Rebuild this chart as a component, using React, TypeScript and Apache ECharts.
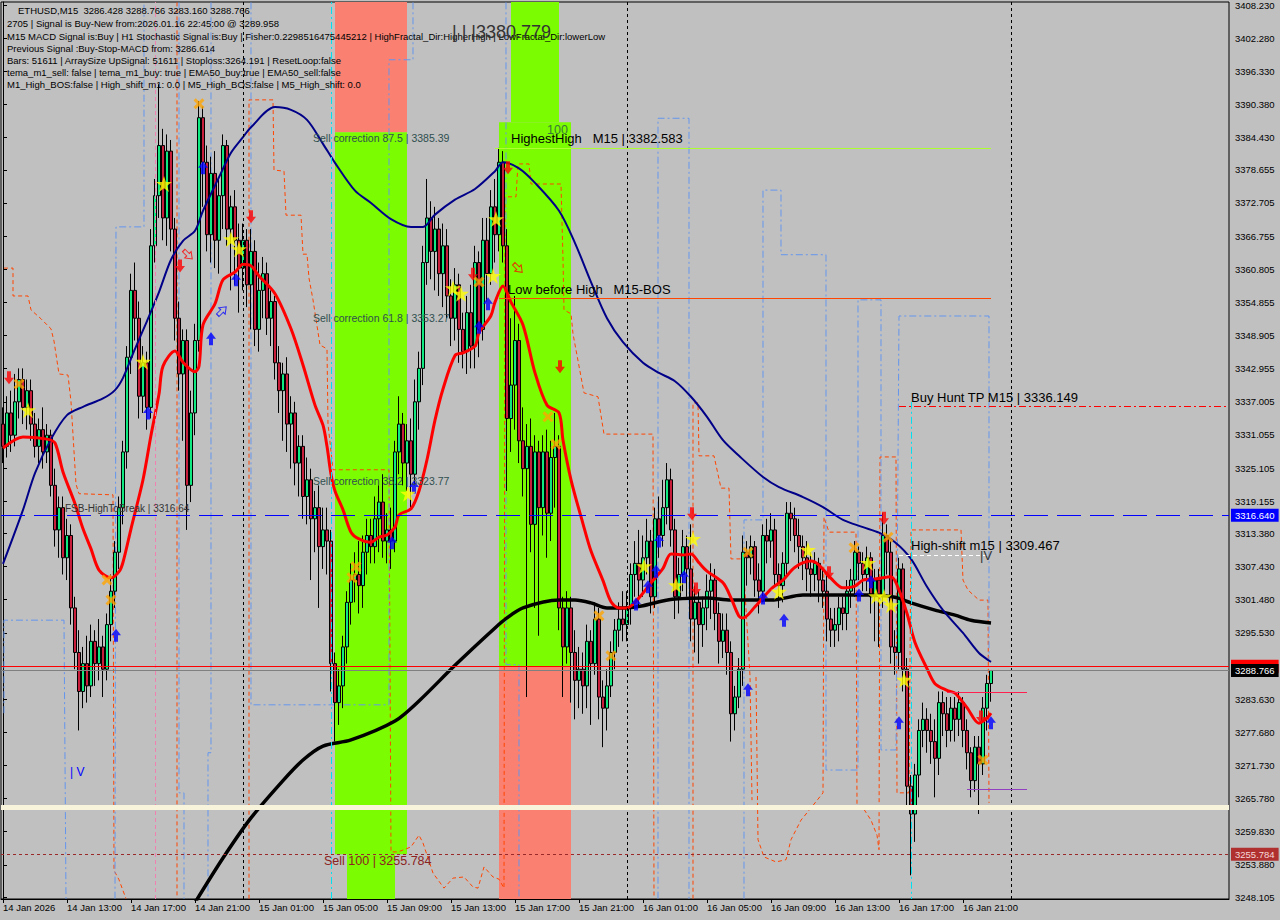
import React, { useEffect, useRef } from "react";
import * as echarts from "echarts";

const FONT = '"Liberation Sans", Arial, sans-serif';

const headerLine = "ETHUSD,M15  3286.428 3288.766 3283.160 3288.766";
const infoLines = [
  "2705 | Signal is Buy-New from:2026.01.16 22:45:00 @ 3289.958",
  "M15 MACD Signal is:Buy | H1 Stochastic Signal is:Buy | Fisher:0.2298516475445212 | HighFractal_Dir:HigherHigh | LowFractal_Dir:lowerLow",
  "Previous Signal :Buy-Stop-MACD from: 3286.614",
  "Bars: 51611 | ArraySize UpSignal: 51611 | Stoploss:3264.191 | ResetLoop:false",
  "tema_m1_sell: false | tema_m1_buy: true | EMA50_buy:true | EMA50_sell:false",
  "M1_High_BOS:false | High_shift_m1: 0.0 | M5_High_BOS:false | M5_High_shift: 0.0",
];

const timeLabels = [
  "14 Jan 2026", "14 Jan 13:00", "14 Jan 17:00", "14 Jan 21:00",
  "15 Jan 01:00", "15 Jan 05:00", "15 Jan 09:00", "15 Jan 13:00",
  "15 Jan 17:00", "15 Jan 21:00", "16 Jan 01:00", "16 Jan 05:00",
  "16 Jan 09:00", "16 Jan 13:00", "16 Jan 17:00", "16 Jan 21:00",
];

const priceTicks = [
  3408.23, 3402.28, 3396.33, 3390.38, 3384.43, 3378.655, 3372.705, 3366.755,
  3360.805, 3354.855, 3348.905, 3342.955, 3337.005, 3331.055, 3325.105,
  3319.155, 3313.38, 3307.43, 3301.48, 3295.53, 3283.63, 3277.68, 3271.73,
  3265.78, 3259.83, 3253.88, 3248.105,
];

const Y_MIN = 3247.746;
const Y_MAX = 3408.769;
const SLOTS = 307;

// [open, close, low, high]
const candles: number[][] = [
  [3333,3329,3326,3336],[3329,3335,3327,3338],[3335,3331,3328,3339],[3331,3337,3329,3342],[3337,3341,3334,3343],
  [3341,3336,3333,3343],[3336,3339,3332,3341],[3339,3333,3330,3341],[3333,3329,3327,3335],[3329,3332,3326,3334],
  // 10
  [3332,3328,3325,3336],[3328,3331,3326,3333],[3331,3322,3320,3332],[3322,3314,3311,3325],[3314,3318,3309,3320],
  [3318,3309,3306,3320],[3309,3313,3305,3316],[3313,3300,3297,3315],[3300,3292,3289,3302],[3292,3285,3278,3296],
  // 20
  [3285,3290,3282,3293],[3290,3286,3283,3295],[3286,3294,3284,3297],[3294,3290,3286,3296],[3290,3293,3287,3298],
  [3293,3289,3284,3295],[3289,3297,3287,3299],[3297,3303,3294,3306],[3303,3310,3300,3312],[3310,3318,3307,3320],
  // 30
  [3318,3328,3315,3330],[3328,3345,3325,3347],[3345,3357,3342,3360],[3357,3352,3348,3362],[3352,3338,3334,3355],
  [3338,3344,3335,3347],[3344,3336,3332,3346],[3336,3365,3334,3368],[3365,3374,3362,3377],[3374,3383,3370,3394],
  // 40
  [3383,3370,3366,3386],[3370,3382,3365,3385],[3382,3368,3364,3384],[3368,3352,3348,3370],[3352,3342,3339,3355],
  [3342,3348,3330,3350],[3348,3322,3314,3350],[3322,3335,3319,3339],[3335,3348,3331,3351],[3348,3388,3346,3391],
  // 50
  [3388,3380,3372,3390],[3380,3367,3364,3383],[3367,3378,3362,3381],[3378,3366,3361,3382],[3366,3374,3360,3377],
  [3374,3383,3368,3385],[3383,3368,3365,3384],[3368,3372,3357,3374],[3372,3366,3358,3375],[3366,3361,3353,3369],
  // 60
  [3361,3366,3357,3369],[3366,3358,3354,3368],[3358,3364,3350,3368],[3364,3350,3347,3366],[3350,3357,3346,3362],
  [3357,3360,3352,3363],[3360,3352,3349,3362],[3352,3355,3347,3357],[3355,3344,3341,3356],[3344,3339,3335,3347],
  // 70
  [3339,3342,3330,3344],[3342,3333,3328,3345],[3333,3335,3325,3338],[3335,3326,3322,3337],[3326,3329,3320,3331],
  [3329,3320,3316,3331],[3320,3323,3315,3327],[3323,3316,3305,3325],[3316,3318,3310,3321],[3318,3311,3300,3322],
  // 80
  [3311,3314,3307,3318],[3314,3312,3306,3318],[3312,3290,3285,3314],[3290,3283,3276,3292],[3283,3286,3279,3289],
  [3286,3293,3282,3295],[3293,3301,3290,3303],[3301,3305,3297,3308],[3305,3306,3301,3310],[3306,3304,3299,3312],
  // 90
  [3304,3310,3300,3313],[3310,3313,3306,3316],[3313,3311,3308,3316],[3311,3316,3308,3320],[3316,3319,3310,3322],
  [3319,3312,3309,3324],[3312,3314,3308,3317],[3314,3312,3307,3318],[3312,3328,3310,3330],[3328,3333,3324,3338],
  // 100
  [3333,3326,3322,3335],[3326,3330,3321,3333],[3330,3324,3318,3334],[3324,3337,3322,3341],[3337,3343,3332,3346],
  [3343,3362,3340,3365],[3362,3370,3358,3377],[3370,3364,3359,3373],[3364,3368,3357,3372],[3368,3360,3356,3370],
  // 110
  [3360,3365,3354,3369],[3365,3356,3352,3368],[3356,3352,3347,3359],[3352,3358,3348,3361],[3358,3350,3344,3360],
  [3350,3346,3343,3353],[3346,3353,3342,3356],[3353,3347,3343,3358],[3347,3362,3343,3365],[3362,3350,3345,3364],
  // 120
  [3350,3366,3348,3370],[3366,3360,3355,3370],[3360,3372,3358,3375],[3372,3367,3362,3377],[3367,3380,3364,3382.583],
  [3380,3365,3362,3382],[3365,3334,3321,3368],[3334,3340,3328,3352],[3340,3348,3332,3356],[3348,3330,3326,3351],
  // 130
  [3330,3325,3320,3336],[3325,3329,3284,3333],[3329,3315,3310,3334],[3315,3328,3300,3331],[3328,3318,3295,3330],
  [3318,3328,3313,3331],[3328,3317,3309,3332],[3317,3327,3312,3330],[3327,3329,3318,3335],[3329,3300,3296,3331],
  // 140
  [3300,3293,3284,3302],[3293,3300,3290,3303],[3300,3292,3283,3302],[3292,3287,3280,3296],[3287,3289,3282,3293],
  [3289,3286,3281,3292],[3286,3294,3282,3297],[3294,3290,3279,3296],[3290,3298,3288,3301],[3298,3284,3280,3300],
  // 150
  [3284,3282,3275,3287],[3282,3286,3278,3289],[3286,3292,3284,3294],[3292,3296,3289,3298],[3296,3298,3293,3301],
  [3298,3297,3294,3303],[3297,3300,3294,3303],[3300,3306,3297,3308],[3306,3308,3302,3312],[3308,3305,3300,3314],
  // 160
  [3305,3309,3302,3313],[3309,3312,3306,3316],[3312,3302,3299,3314],[3302,3316,3300,3318],[3316,3313,3309,3320],
  [3313,3318,3311,3323],[3318,3323,3315,3326],[3323,3314,3311,3325],[3314,3302,3298,3316],[3302,3306,3299,3309],
  // 170
  [3306,3311,3303,3314],[3311,3307,3302,3313],[3307,3298,3294,3315],[3298,3301,3292,3304],[3301,3297,3290,3303],
  [3297,3300,3293,3302],[3300,3303,3296,3306],[3303,3305,3298,3308],[3305,3299,3296,3307],[3299,3294,3290,3301],
  // 180
  [3294,3296,3291,3299],[3296,3292,3288,3299],[3292,3281,3276,3294],[3281,3284,3278,3286],[3284,3289,3282,3291],
  [3289,3310,3286,3313],[3310,3309,3304,3312],[3309,3311,3306,3313],[3311,3305,3302,3312],[3305,3303,3299,3308],
  // 190
  [3303,3313,3301,3315],[3313,3312,3308,3316],[3312,3314,3309,3317],[3314,3306,3304,3316],[3306,3304,3300,3308],
  [3304,3308,3301,3310],[3308,3317,3306,3319],[3317,3316,3312,3319],[3316,3313,3310,3318],[3313,3311,3307,3316],
  // 200
  [3311,3309,3305,3313],[3309,3307,3303,3312],[3307,3306,3302,3310],[3306,3308,3303,3310],[3308,3305,3301,3309],
  [3305,3303,3300,3307],[3303,3298,3294,3306],[3298,3296,3293,3300],[3296,3297,3293,3300],[3297,3300,3294,3302],
  // 210
  [3300,3299,3296,3302],[3299,3303,3296,3305],[3303,3305,3300,3307],[3305,3310,3302,3312],[3310,3308,3305,3311],
  [3308,3306,3303,3310],[3306,3309,3303,3311],[3309,3302,3299,3310],[3302,3305,3294,3307],[3305,3302,3293,3307],
  // 220
  [3302,3313,3300,3317],[3313,3310,3306,3315],[3310,3293,3290,3312],[3293,3292,3288,3296],[3292,3307,3289,3309],
  [3307,3289,3285,3308],[3289,3268,3264,3291],[3268,3263,3252,3270],[3263,3270,3258,3272],[3270,3278,3266,3280],
  // 230
  [3278,3280,3275,3283],[3280,3278,3274,3282],[3278,3276,3272,3281],[3276,3273,3266,3280],[3273,3283,3270,3285],
  [3283,3281,3277,3285],[3281,3278,3275,3284],[3278,3282,3276,3284],[3282,3280,3276,3284],[3280,3283,3277,3285],
  // 240
  [3283,3278,3275,3284],[3278,3274,3271,3280],[3274,3269,3266,3275],[3269,3275,3267,3277],[3275,3272,3263,3277],
  [3272,3282,3270,3284],[3282,3286.428,3278,3288],[3286.428,3288.766,3283.16,3288.766],
];

// moving averages: [bar index, price]
const redMA = [
  [0,3328.7],[5,3330.7],[11,3330.3],[13,3329.6],[15,3324.4],[18,3318.7],[20,3314.2],[22,3310.6],[24,3306.8],[27,3305.4],
  [29,3306.5],[30,3308.2],[32,3314.2],[35,3323.0],[37,3331.0],[39,3338.4],[40,3343.4],[43,3346.1],[45,3344.1],[48,3342.4],
  [49,3343.4],[50,3350.8],[53,3354.6],[55,3358.9],[58,3360.3],[60,3361.7],[62,3361.4],[64,3359.6],[68,3356.4],[72,3350.1],
  [75,3343.6],[78,3336.4],[80,3332.8],[81,3329.0],[82,3324.0],[83,3321.0],[85,3317.6],[87,3313.6],[89,3312.4],[92,3311.8],
  [94,3312.7],[96,3313.1],[98,3314.5],[99,3316.7],[102,3317.8],[104,3321.0],[106,3326.6],[108,3333.7],[110,3339.3],[113,3345.3],
  [115,3345.8],[118,3347.0],[119,3349.4],[122,3352.5],[123,3354.9],[125,3357.8],[127,3354.9],[130,3350.8],[133,3342.2],[136,3336.4],
  [139,3335.0],[140,3330.1],[142,3323.0],[145,3315.1],[147,3310.2],[150,3304.9],[152,3301.1],[154,3300.0],[156,3300.0],[159,3301.8],
  [162,3304.5],[165,3307.1],[167,3309.7],[170,3309.5],[172,3309.7],[174,3308.1],[176,3306.6],[180,3304.5],[182,3301.8],[184,3298.5],
  [185,3298.2],[188,3300.2],[192,3303.4],[195,3305.0],[198,3307.3],[202,3308.4],[204,3307.7],[207,3305.3],[210,3303.6],[213,3303.9],
  [215,3305.0],[218,3305.2],[222,3305.6],[224,3303.2],[226,3299.0],[228,3293.8],[231,3289.1],[233,3286.4],[236,3285.2],[238,3284.7],
  [241,3282.1],[244,3279.3],[246,3280.2],[247,3281.1],
];
const blueMA = [
  [0,3307.9],[5,3317.6],[8,3324.2],[12,3330.3],[16,3334.6],[20,3336.1],[25,3337.6],[28,3339.1],[30,3341.3],[33,3346.5],
  [36,3351.5],[39,3356.7],[42,3362.5],[45,3365.9],[48,3367.7],[50,3371.3],[54,3377.3],[57,3381.7],[60,3384.5],[62,3386.3],
  [68,3389.9],[72,3389.4],[76,3387.6],[80,3383.3],[83,3379.9],[88,3374.9],[92,3372.7],[97,3369.8],[102,3368.4],[105,3368.4],
  [108,3370.6],[113,3373.3],[118,3375.2],[123,3378.4],[125,3380.0],[129,3378.9],[133,3376.3],[139,3371.3],[143,3365.5],[147,3358.5],
  [151,3352.0],[155,3347.7],[160,3344.0],[164,3342.2],[168,3340.7],[172,3337.9],[176,3334.3],[180,3330.1],[184,3327.3],[190,3323.5],
  [194,3321.7],[200,3319.9],[205,3318.1],[210,3315.8],[215,3314.5],[219,3313.5],[223,3311.8],[227,3308.8],[231,3303.8],[235,3299.6],
  [240,3295.5],[244,3291.9],[247,3290.3],
];
const blackMA = [
  [47.5,3246.5],[55,3255.1],[62,3262.3],[70,3269.0],[75,3272.7],[80,3275.2],[87,3276.3],[98,3279.7],[104,3283.3],[113,3289.7],
  [123,3296.4],[126,3298.2],[130,3300.0],[139,3301.4],[143,3301.4],[147,3300.9],[151,3300.0],[155,3300.0],[160,3300.4],[164,3301.1],
  [168,3301.6],[176,3301.8],[182,3301.4],[192,3301.4],[200,3302.3],[208,3302.3],[217,3302.3],[223,3301.9],[227,3300.9],[233,3299.6],
  [238,3298.7],[242,3297.8],[247,3297.3],
];

// stepped indicator lines
const orangeA = [
  [0.25,3361.0],[2.5,3361.0],[2.5,3356.0],[6.25,3356.0],[7,3353.5],[9.5,3351.9],[12,3350.1],[12.75,3347.9],[14,3342.0],[16.25,3341.8],
  [17,3337.0],[18.25,3322.2],[19,3320.5],[27.5,3320.3],[27.75,3252.9],[29,3251.2],[30.75,3247.8],
];
const orangeB = [[43.5,3408.7],[43.5,3247.8]];
const orangeC = [
  [61.5,3247.8],[61.5,3391.2],[67.5,3391.2],[67.75,3378.6],[70.25,3378.4],[70.75,3370.5],[74.5,3370.5],[75,3363.5],[76,3363.5],[76.5,3359.2],
  [77.5,3355.3],[79.25,3347.2],[81,3346.5],[81.25,3333.0],[82.5,3324.8],[96.5,3324.8],[97,3256.2],[98.75,3256.2],[100.25,3256.6],[102,3257.1],
  [104,3259.2],[105,3257.8],[107.5,3252.4],[110.25,3249.7],[112.5,3251.5],[115.25,3251.7],[117.5,3249.9],[118.75,3249.7],[120.25,3253.5],[122.5,3251.7],
  [124,3251.3],[125.25,3249.7],[125.5,3373.8],[128.25,3373.8],[128.75,3379.7],[131.5,3379.7],[132,3376.1],[139.5,3376.1],[140,3362.6],[140.25,3353.5],
  [142,3352.8],[142.5,3349.2],[145.25,3338.6],[148.75,3337.9],[150.25,3331.2],[162.5,3331.2],[162.75,3247.8],
];
const orangeD = [
  [172.5,3247.8],[172.5,3336.8],[173.75,3336.8],[174,3327.3],[177.75,3327.3],[179.5,3321.5],[181.5,3321.5],[182,3308.8],[185,3308.8],[186.75,3287.8],
  [187.25,3265.5],
];
const orangeE = [
  [188.25,3287.6],[188.75,3258.4],[190.25,3255.3],[193.25,3254.4],[195.75,3254.8],[197,3258.4],[199.5,3261.9],[202,3264.1],[205,3266.8],[205.25,3316.3],
  [206.5,3313.6],[213.25,3313.6],[213.5,3264.6],[215,3264.1],[217,3261.9],[218.5,3259.2],[219,3256.6],[219.25,3327.1],[223.25,3327.1],[223.5,3266.8],
  [226.5,3266.8],[227,3314.0],[239.5,3314.0],[240,3305.0],[241.25,3303.2],[244,3301.4],[246.25,3301.4],[246.5,3265.0],
];
const blueA = [[0.25,3281.1],[0.25,3297.8],[15.25,3297.8],[15.75,3247.8]];
const blueB = [[28,3247.8],[28.25,3368.4],[35.25,3368.4],[35.25,3408.7]];
const blueC = [[44,3408.7],[44,3266.8],[45.25,3266.8],[45.25,3247.8]];
const blueD = [[52,3408.7],[52,3274.0],[51.25,3274.0],[51.25,3247.8]];
const blueE = [[62,3408.7],[62,3282.6],[96.5,3282.6],[96.5,3398.4],[102.5,3398.4],[102.5,3408.7]];
const blueF = [[125.75,3408.7],[125.75,3289.8],[129,3289.8],[129,3247.8]];
const blueG = [[163.75,3247.8],[163.75,3387.9],[171.5,3387.9],[171.5,3247.8]];
const blueH = [
  [185.25,3247.8],[185.25,3315.8],[190,3315.8],[190,3375.0],[194.5,3375.0],[194.5,3363.4],[205.75,3363.4],[205.75,3270.9],[213.75,3270.9],[213.75,3355.3],
  [219.5,3355.3],[219.5,3274.5],[223.25,3274.5],[224,3352.4],[246.5,3352.4],[246.5,3290.7],
];

// signal markers [bar index, price]
const redDown = [[1.5,3341.3],[44.25,3361.4],[62,3370.2],[117.5,3359.9],[126.25,3379.0],[139.25,3343.3],[172.25,3316.9],[173.25,3303.4],[206.5,3306.3],[220.25,3316.1],[244.5,3280.4]];
const blueUp = [[28.25,3295.1],[36.25,3335.0],[50,3379.0],[52,3348.3],[58.25,3358.9],[97.25,3311.7],[102.75,3321.7],[119,3350.4],[121.25,3354.6],[158.25,3300.7],[161.25,3303.8],[163.25,3306.6],[164,3312.0],[170.25,3305.6],[186.25,3285.3],[190,3301.8],[195.25,3297.8],[214,3302.3],[217,3304.7],[224,3279.4],[247,3279.4]];
const stars = [[6.25,3335.5],[35,3344.2],[40.25,3376.1],[57,3366.2],[59,3364.4],[101.25,3320.5],[112.5,3357.4],[114.5,3356.4],[122.5,3359.6],[123.25,3369.8],[160.25,3307.5],[168.25,3304.1],[172.5,3312.4],[194,3302.9],[201.25,3310.4],[216.25,3308.1],[218.25,3302.1],[220.25,3302.0],[222,3300.5],[225.25,3287.1]];
const crosses = [[4,3340.2],[26,3305.0],[27,3301.4],[49,3390.5],[87.25,3305.4],[88.25,3307.4],[119,3358.5],[136.25,3334.3],[138.25,3329.4],[149,3298.6],[152,3291.4],[186.25,3310.0],[212.75,3310.8],[221.25,3312.7],[245,3272.7]];
const hollowRed = [[46.25,3363.4],[128.75,3361.0]];
const hollowBlue = [[54.75,3353.3]];

const ARROW_DOWN = "path://M3,0L7,0L7,6L10,6L5,12L0,6L3,6Z";
const ARROW_UP = "path://M5,0L10,6L7,6L7,12L3,12L3,6L0,6Z";
const STAR = "path://M50,0L61.2,34.5L97.6,34.5L68.2,55.9L79.4,90.5L50,69.1L20.6,90.5L31.8,55.9L2.4,34.5L38.8,34.5Z";
const CROSS = "path://M0,2L2,0L5,3L8,0L10,2L7,5L10,8L8,10L5,7L2,10L0,8L3,5Z";

function buildOption() {
  const start = Date.UTC(2026, 0, 14, 9, 0);
  const cats: string[] = [];
  for (let i = 0; i < SLOTS; i++) {
    const d = new Date(start + i * 15 * 60000);
    cats.push(d.toISOString().slice(0, 16));
  }
  const showIdx = (idx: number) => idx % 16 === 0 && idx / 16 < timeLabels.length;

  const stepLine = (data: number[][], color: string, type: any) => ({
    type: "line",
    xAxisIndex: 1,
    data,
    showSymbol: false,
    symbol: "none",
    silent: true,
    z: 1,
    lineStyle: { color, width: 1, type },
  });
  const dashDot = [7, 3, 2, 3];
  const dash = [4, 3];

  const priceLabel = (text: string, bg: string, fg: string) => ({
    show: true,
    position: "end",
    formatter: text,
    backgroundColor: bg,
    color: fg,
    fontSize: 9.5,
    fontFamily: FONT,
    padding: [2, 4, 1, 4],
    distance: 2,
  });

  const texts: any[] = [];
  const addText = (x: number, y: number, text: string, size: number, fill: string) =>
    texts.push({
      type: "text",
      x,
      y,
      z: 100,
      silent: true,
      style: { text, fill, font: `${size}px ${FONT}`, align: "left", verticalAlign: "middle" },
    });
  addText(18, 10, headerLine, 9.5, "#000");
  const lineYs = [23, 36, 48, 60, 72, 84];
  infoLines.forEach((t, k) => addText(7, lineYs[k], t, 9.5, "#000"));
  addText(452, 32, "| | |3380.779", 18, "#333");
  addText(313, 138, "Sell correction 87.5 | 3385.39", 10.5, "#2f4f4f");
  addText(313, 318, "Sell correction 61.8 | 3353.27", 10.5, "#2f4f4f");
  addText(313, 481, "Sell correction 38.2 | 3323.77", 10.5, "#2f4f4f");
  addText(324, 861, "Sell 100 | 3255.784", 12.5, "#8b2323");
  addText(547, 130, "100", 12.5, "#3a7a3a");
  addText(511, 138, "HighestHigh   M15 | 3382.583", 13, "#000");
  addText(508, 289, "Low before High   M15-BOS", 13, "#000");
  addText(911, 397, "Buy Hunt TP M15 | 3336.149", 13, "#000");
  addText(911, 545, "High-shift m15 | 3309.467", 13, "#000");
  addText(65, 508, "FSB-HighToBreak | 3316.64", 10, "#333");
  addText(70, 772, "| V", 12, "#0000ff");
  addText(980, 555, "|V", 13, "#333");

  return {
    animation: false,
    backgroundColor: "#c0c0c0",
    grid: {
      left: 1, right: 51, top: 2, bottom: 21,
      show: true, borderColor: "#000", borderWidth: 1, backgroundColor: "transparent",
    },
    xAxis: [
      {
        type: "category",
        data: cats,
        boundaryGap: true,
        axisLine: { show: true, lineStyle: { color: "#000" } },
        axisTick: { show: true, interval: (i: number) => showIdx(i), alignWithLabel: true, length: 4, lineStyle: { color: "#000" } },
        axisLabel: {
          interval: (i: number) => showIdx(i),
          formatter: (_v: string, i: number) => (showIdx(i) ? timeLabels[i / 16] : ""),
          color: "#000",
          fontSize: 9.5,
          fontFamily: FONT,
          align: "left",
          margin: 3,
        },
        splitLine: { show: false },
      },
      { type: "value", min: -0.5, max: SLOTS - 0.5, show: false },
    ],
    yAxis: {
      type: "value",
      position: "right",
      min: Y_MIN,
      max: Y_MAX,
      axisLine: { show: true, lineStyle: { color: "#000" } },
      axisTick: { show: true, customValues: priceTicks, length: 4, lineStyle: { color: "#000" } },
      axisLabel: {
        customValues: priceTicks,
        formatter: (v: number) => v.toFixed(3),
        color: "#000",
        fontSize: 9.5,
        fontFamily: FONT,
        margin: 6,
      },
      splitLine: { show: false },
    },
    graphic: texts,
    series: [
      {
        type: "line",
        xAxisIndex: 1,
        data: [[0, 3300]],
        symbol: "none",
        lineStyle: { opacity: 0 },
        silent: true,
        z: 0,
        markArea: {
          silent: true,
          label: { show: false },
          data: [
            [{ coord: [83, Y_MAX], itemStyle: { color: "#fa8072", opacity: 1 } }, { coord: [101, 3385.39] }],
            [{ coord: [83, 3385.39], itemStyle: { color: "#7cfc00", opacity: 1 } }, { coord: [101, 3255.784] }],
            [{ coord: [86, 3255.784], itemStyle: { color: "#7cfc00", opacity: 1 } }, { coord: [98, Y_MIN] }],
            [{ coord: [127, Y_MAX], itemStyle: { color: "#7cfc00", opacity: 1 } }, { coord: [139, 3387.2] }],
            [{ coord: [124, 3387.2], itemStyle: { color: "#7cfc00", opacity: 1 } }, { coord: [142, 3289.518] }],
            [{ coord: [124, 3289.518], itemStyle: { color: "#fa8072", opacity: 1 } }, { coord: [142, Y_MIN] }],
          ],
        },
        markLine: {
          silent: true,
          symbol: ["none", "none"],
          label: { show: false },
          data: [
            { xAxis: 60, lineStyle: { color: "#000", type: [3, 3], width: 1 } },
            { xAxis: 156, lineStyle: { color: "#000", type: [3, 3], width: 1 } },
            { xAxis: 252, lineStyle: { color: "#000", type: [3, 3], width: 1 } },
            { xAxis: 38, lineStyle: { color: "#f080b0", type: [4, 3], width: 1 } },
            { xAxis: 82, lineStyle: { color: "#00e0f0", type: dashDot, width: 1 } },
            [{ coord: [227, 3337], lineStyle: { color: "#00e0f0", type: dashDot, width: 1 } }, { coord: [227, Y_MIN] }],
            [{ coord: [123, 3382.583], lineStyle: { color: "#adff2f", type: "solid", width: 1 } }, { coord: [247, 3382.583] }],
            [{ coord: [124, 3355.64], lineStyle: { color: "#ff4500", type: "solid", width: 1 } }, { coord: [247, 3355.64] }],
            [{ coord: [224, 3336.149], lineStyle: { color: "#ff0000", type: dashDot, width: 1 } }, { coord: [SLOTS - 0.5, 3336.149] }],
            [{ coord: [224, 3309.467], lineStyle: { color: "#ffffff", type: [4, 3], width: 1 } }, { coord: [246.5, 3309.467] }],
            [{ coord: [236, 3284.9], lineStyle: { color: "#ff2050", type: "solid", width: 1 } }, { coord: [256, 3284.9] }],
            [{ coord: [241, 3267.5], lineStyle: { color: "#9040c0", type: "solid", width: 1 } }, { coord: [256, 3267.5] }],
          ],
        },
      },
      stepLine(orangeA, "#ff4500", dash),
      stepLine(orangeB, "#ff4500", dash),
      stepLine(orangeC, "#ff4500", dash),
      stepLine(orangeD, "#ff4500", dash),
      stepLine(orangeE, "#ff4500", dash),
      stepLine(blueA, "#6495ed", dashDot),
      stepLine(blueB, "#6495ed", dashDot),
      stepLine(blueC, "#6495ed", dashDot),
      stepLine(blueD, "#6495ed", dashDot),
      stepLine(blueE, "#6495ed", dashDot),
      stepLine(blueF, "#6495ed", dashDot),
      stepLine(blueG, "#6495ed", dashDot),
      stepLine(blueH, "#6495ed", dashDot),
      {
        type: "candlestick",
        xAxisIndex: 0,
        data: candles,
        barWidth: 3,
        z: 3,
        silent: true,
        itemStyle: {
          color: "#10e880",
          color0: "#c81e3c",
          borderColor: "#000",
          borderColor0: "#000",
          borderWidth: 1,
        },
        markLine: {
          silent: true,
          symbol: ["none", "none"],
          data: [
            { yAxis: 3264.191, lineStyle: { color: "#f8f4dc", width: 5, type: "solid" }, label: { show: false } },
            { yAxis: 3316.64, lineStyle: { color: "#0000ff", width: 1, type: [24, 9] }, label: priceLabel("3316.640", "#0000ff", "#ffffff") },
            { yAxis: 3255.784, lineStyle: { color: "#9a2a2a", width: 1, type: [3, 3] }, label: priceLabel("3255.784", "#b03030", "#f4d8d8") },
            { yAxis: 3289.518, lineStyle: { color: "#ff0000", width: 1, type: "solid" }, label: priceLabel("3289.518", "#ff0000", "#ffffff") },
            { yAxis: 3288.766, lineStyle: { color: "#808080", width: 1, type: "solid" }, label: priceLabel("3288.766", "#000000", "#ffffff") },
          ],
        },
      },
      {
        type: "line", xAxisIndex: 1, data: blackMA, showSymbol: false, symbol: "none", smooth: 0.3, z: 4, silent: true,
        lineStyle: { color: "#000", width: 3.5 },
      },
      {
        type: "line", xAxisIndex: 1, data: blueMA, showSymbol: false, symbol: "none", smooth: 0.3, z: 4, silent: true,
        lineStyle: { color: "#000088", width: 2 },
      },
      {
        type: "line", xAxisIndex: 1, data: redMA, showSymbol: false, symbol: "none", smooth: 0.3, z: 4, silent: true,
        lineStyle: { color: "#ff0000", width: 3 },
      },
      {
        type: "scatter", xAxisIndex: 1, data: redDown, symbol: ARROW_DOWN, symbolSize: [10, 13], z: 5, silent: true,
        itemStyle: { color: "#ff0000" },
      },
      {
        type: "scatter", xAxisIndex: 1, data: blueUp, symbol: ARROW_UP, symbolSize: [10, 13], z: 5, silent: true,
        itemStyle: { color: "#0000ff" },
      },
      {
        type: "scatter", xAxisIndex: 1, data: hollowRed, symbol: ARROW_DOWN, symbolSize: [9, 12], symbolRotate: 45, z: 5, silent: true,
        itemStyle: { color: "rgba(0,0,0,0)", borderColor: "#ff0000", borderWidth: 1 },
      },
      {
        type: "scatter", xAxisIndex: 1, data: hollowBlue, symbol: ARROW_UP, symbolSize: [9, 12], symbolRotate: -45, z: 5, silent: true,
        itemStyle: { color: "rgba(0,0,0,0)", borderColor: "#0000ff", borderWidth: 1 },
      },
      {
        type: "scatter", xAxisIndex: 1, data: stars, symbol: STAR, symbolSize: 16, z: 5, silent: true,
        itemStyle: { color: "#ffff00" },
      },
      {
        type: "scatter", xAxisIndex: 1, data: crosses, symbol: CROSS, symbolSize: 11, z: 5, silent: true,
        itemStyle: { color: "#ffa500" },
      },
    ],
  };
}

export default function App() {
  const ref = useRef<HTMLDivElement>(null);
  useEffect(() => {
    if (!ref.current) return;
    const chart = echarts.init(ref.current, undefined, { renderer: "svg" });
    chart.setOption(buildOption() as any);
    return () => chart.dispose();
  }, []);
  return (
    <div
      ref={ref}
      style={{ position: "fixed", left: 0, top: 0, width: 1280, height: 920, background: "#c0c0c0" }}
    />
  );
}
